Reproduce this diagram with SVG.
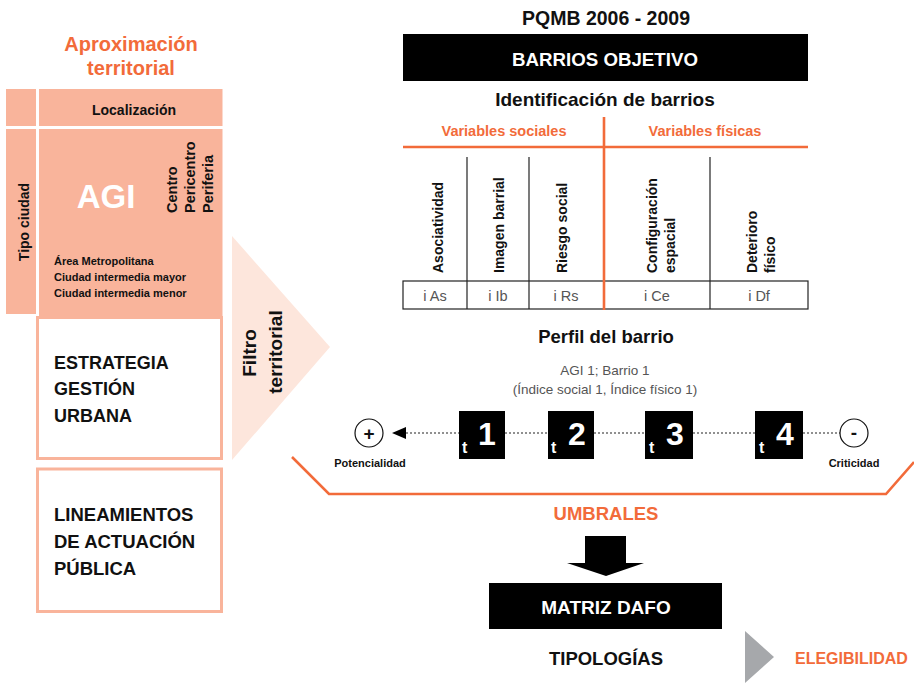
<svg xmlns="http://www.w3.org/2000/svg" width="914" height="683" viewBox="0 0 914 683">
<defs>
<style>
text{font-family:"Liberation Sans",Arial,sans-serif;}
.b{font-weight:bold;}
.or{fill:#F26B3A;}
.wh{fill:#fff;}
.blk{fill:#111;}
.lt{fill:#555;font-weight:normal;}
.sal{fill:#F9B49B;}
.box{fill:#fff;stroke:#F9B49B;stroke-width:3;}
.tl{stroke:#222;stroke-width:1.2;fill:none;}
.ol{stroke:#F26B3A;stroke-width:2.6;fill:none;}
.tb{fill:#000;}
.mid{text-anchor:middle;}
</style>
</defs>

<g id="aproximacion-title">
<text class="b or mid" x="131" y="51" font-size="20">Aproximación</text>
<text class="b or mid" x="131" y="75" font-size="20">territorial</text>
</g>

<g id="matriz-territorial">
<rect class="sal" x="6" y="89" width="30" height="37"/>
<rect class="sal" x="39" y="89" width="183.5" height="37"/>
<rect class="sal" x="6" y="129" width="30" height="185"/>
<rect class="sal" x="39" y="129" width="183.5" height="188"/>
<text class="b blk mid" x="134" y="115" font-size="14">Localización</text>
<text class="b blk mid" transform="translate(29,222) rotate(-90)" font-size="14">Tipo ciudad</text>
<text class="b wh mid" x="106" y="208" font-size="33">AGI</text>
<text class="b blk" transform="translate(177,213) rotate(-90)" font-size="14.5">Centro</text>
<text class="b blk" transform="translate(195,213) rotate(-90)" font-size="14.5">Pericentro</text>
<text class="b blk" transform="translate(213,213) rotate(-90)" font-size="14.5">Periferia</text>
<text class="b blk" x="54" y="265" font-size="11">Área Metropolitana</text>
<text class="b blk" x="54" y="281" font-size="11">Ciudad intermedia mayor</text>
<text class="b blk" x="54" y="297" font-size="11">Ciudad intermedia menor</text>
</g>

<g id="estrategia">
<rect class="box" x="37.5" y="317.5" width="184" height="141"/>
<text class="b blk" x="54" y="369" font-size="18">ESTRATEGIA</text>
<text class="b blk" x="54" y="395" font-size="18">GESTIÓN</text>
<text class="b blk" x="54" y="422" font-size="18">URBANA</text>
</g>

<g id="lineamientos">
<rect class="box" x="37.5" y="469" width="184" height="142.5"/>
<text class="b blk" x="54" y="521" font-size="18.5">LINEAMIENTOS</text>
<text class="b blk" x="54" y="548" font-size="18.5">DE ACTUACIÓN</text>
<text class="b blk" x="54" y="575" font-size="18.5">PÚBLICA</text>
</g>

<g id="filtro-territorial">
<polygon points="232,236 330,347 232,460" fill="#FDE6DC"/>
<text class="b blk mid" transform="translate(256,353) rotate(-90)" font-size="19">Filtro</text>
<text class="b blk mid" transform="translate(282,352) rotate(-90)" font-size="19">territorial</text>
</g>

<g id="barrios-objetivo">
<text class="b blk mid" x="606" y="25" font-size="19.5">PQMB 2006 - 2009</text>
<rect class="tb" x="403" y="34" width="405" height="47"/>
<text class="b wh mid" x="605" y="66" font-size="18.7">BARRIOS OBJETIVO</text>
<text class="b blk mid" x="605" y="106" font-size="19">Identificación de barrios</text>
</g>

<g id="tabla-variables">
<text class="b or mid" x="504" y="136" font-size="14.5">Variables sociales</text>
<text class="b or mid" x="705" y="136" font-size="14.5">Variables físicas</text>
<line class="tl" x1="467" y1="157" x2="467" y2="309"/>
<line class="tl" x1="529" y1="157" x2="529" y2="309"/>
<line class="tl" x1="710" y1="157" x2="710" y2="309"/>
<rect class="tl" x="403" y="281" width="405" height="28"/>
<line class="ol" x1="403" y1="147" x2="808" y2="147"/>
<line class="ol" x1="604" y1="117" x2="604" y2="310"/>
<text class="b blk" transform="translate(443,273) rotate(-90)" font-size="14">Asociatividad</text>
<text class="b blk" transform="translate(504,273) rotate(-90)" font-size="14">Imagen barrial</text>
<text class="b blk" transform="translate(567,273) rotate(-90)" font-size="14">Riesgo social</text>
<text class="b blk" transform="translate(657,273) rotate(-90)" font-size="14">Configuración</text>
<text class="b blk" transform="translate(675,273) rotate(-90)" font-size="14">espacial</text>
<text class="b blk" transform="translate(757,273) rotate(-90)" font-size="14">Deterioro</text>
<text class="b blk" transform="translate(775,273) rotate(-90)" font-size="14">físico</text>
<text class="lt mid" x="435" y="301" font-size="14.5">i As</text>
<text class="lt mid" x="498" y="301" font-size="14.5">i Ib</text>
<text class="lt mid" x="566" y="301" font-size="14.5">i Rs</text>
<text class="lt mid" x="657" y="301" font-size="14.5">i Ce</text>
<text class="lt mid" x="759" y="301" font-size="14.5">i Df</text>
</g>

<g id="perfil-barrio">
<text class="b blk mid" x="606" y="343" font-size="18.5">Perfil del barrio</text>
<text class="lt mid" x="605" y="375" font-size="13.5">AGI 1; Barrio 1</text>
<text class="lt mid" x="605" y="394" font-size="13.5">(Índice social 1, Índice físico 1)</text>
</g>

<g id="connectors">
<line x1="406" y1="433" x2="459" y2="433" stroke="#222" stroke-width="1.2" stroke-dasharray="2,2"/>
<line x1="505" y1="433" x2="548" y2="433" stroke="#222" stroke-width="1.2" stroke-dasharray="2,2"/>
<line x1="594" y1="433" x2="645" y2="433" stroke="#222" stroke-width="1.2" stroke-dasharray="2,2"/>
<line x1="693" y1="433" x2="755" y2="433" stroke="#222" stroke-width="1.2" stroke-dasharray="2,2"/>
<line x1="803" y1="433" x2="840" y2="433" stroke="#222" stroke-width="1.2" stroke-dasharray="2,2"/>
<polygon points="392,433 406,427 406,439" fill="#000"/>
<path class="ol" d="M292,457 L329,494 L886,494 L914,462"/>
<polygon points="585,536 626,536 626,563 644,563 606,576 567,563 585,563" fill="#000"/>
<polygon points="745,631 774,657 745,683" fill="#A6A8AB"/>
</g>

<g id="potencialidad">
<circle cx="369" cy="433" r="14" fill="#fff" stroke="#111" stroke-width="1.2"/>
<text class="b blk mid" x="369" y="440" font-size="19">+</text>
<text class="b blk mid" x="370" y="467" font-size="11">Potencialidad</text>
</g>

<g id="criticidad">
<circle cx="854" cy="433" r="14" fill="#fff" stroke="#111" stroke-width="1.2"/>
<text class="b blk mid" x="854" y="439" font-size="19">-</text>
<text class="b blk mid" x="854" y="467" font-size="11">Criticidad</text>
</g>

<g id="t1">
<rect class="tb" x="459" y="411" width="46" height="48"/>
<text class="b wh" x="462" y="453" font-size="16">t</text>
<text class="b wh mid" x="487" y="445" font-size="32">1</text>
</g>
<g id="t2">
<rect class="tb" x="548" y="411" width="46" height="48"/>
<text class="b wh" x="551" y="453" font-size="16">t</text>
<text class="b wh mid" x="577" y="445" font-size="32">2</text>
</g>
<g id="t3">
<rect class="tb" x="645" y="411" width="48" height="48"/>
<text class="b wh" x="649" y="453" font-size="16">t</text>
<text class="b wh mid" x="675" y="445" font-size="32">3</text>
</g>
<g id="t4">
<rect class="tb" x="755" y="411" width="48" height="48"/>
<text class="b wh" x="759" y="453" font-size="16">t</text>
<text class="b wh mid" x="785" y="445" font-size="32">4</text>
</g>

<g id="umbrales">
<text class="b or mid" x="606" y="520" font-size="18.5">UMBRALES</text>
</g>

<g id="matriz-dafo">
<rect class="tb" x="489" y="583" width="233" height="46"/>
<text class="b wh mid" x="606" y="614" font-size="19">MATRIZ DAFO</text>
</g>

<g id="tipologias">
<text class="b blk mid" x="606" y="665" font-size="18.5">TIPOLOGÍAS</text>
</g>

<g id="elegibilidad">
<text class="b or" x="795" y="664" font-size="16">ELEGIBILIDAD</text>
</g>
</svg>
